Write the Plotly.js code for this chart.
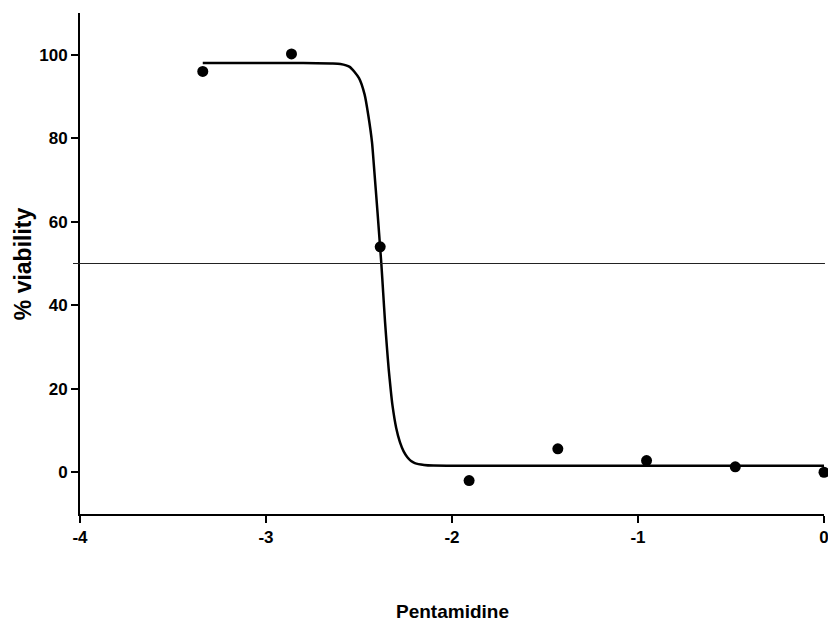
<!DOCTYPE html>
<html>
<head>
<meta charset="utf-8">
<script src="https://cdn.plot.ly/plotly-3.0.1.min.js"></script>
<style>html,body{margin:0;padding:0;background:#fff;}#chart{width:828px;height:623px;}</style>
</head>
<body>
<div id="chart"></div>
<script>
// Measured points
const logConc = [-3.340, -2.863, -2.386, -1.908, -1.431, -0.954, -0.477, 0];
const viability = [96.0, 100.2, 54.0, -2.0, 5.6, 2.8, 1.3, 0.0];

// Fitted curve
const curveX = [-3.34, -3.0, -2.8, -2.65, -2.6, -2.55, -2.5, -2.47, -2.45, -2.43, -2.42, -2.40, -2.39, -2.38, -2.37, -2.36, -2.35, -2.34, -2.33, -2.32, -2.30, -2.28, -2.26, -2.24, -2.22, -2.20, -2.15, -2.1, -1.8, -1.0, 0];
const curveY = [98.0, 98.0, 98.0, 97.9, 97.8, 97.1, 94.4, 90.5, 85.5, 79.0, 73.5, 62.0, 56.0, 50.0, 43.0, 36.0, 30.0, 24.5, 20.0, 16.0, 10.6, 7.2, 5.0, 3.6, 2.7, 2.2, 1.75, 1.6, 1.55, 1.55, 1.55];

const xTicks = [-4, -3, -2, -1, 0];
const yTicks = [0, 20, 40, 60, 80, 100];
const refLevel = 50;

const fontFam = 'Liberation Sans, Arial, Helvetica, sans-serif';

const traces = [
  {x: curveX, y: curveY, mode: 'lines', type: 'scatter',
   line: {color: '#000', width: 2.5, shape: 'spline', smoothing: 0.6},
   hoverinfo: 'skip', showlegend: false},
  {x: logConc, y: viability, mode: 'markers', type: 'scatter',
   marker: {color: '#000', size: 11}, cliponaxis: false, showlegend: false}
];

const layout = {
  width: 828, height: 623,
  margin: {l: 80, r: 4, t: 13, b: 109},
  paper_bgcolor: '#fff', plot_bgcolor: '#fff',
  showlegend: false,
  font: {family: fontFam, color: '#000'},
  xaxis: {
    range: [-4, 0], tickvals: xTicks, ticktext: xTicks.map(String),
    showgrid: false, zeroline: false, showline: true, linecolor: '#000', linewidth: 2,
    ticks: 'outside', ticklen: 7, tickwidth: 2, tickcolor: '#000',
    ticklabeloverflow: 'allow',
    tickfont: {family: fontFam, size: 17, weight: 700, color: '#000'}
  },
  yaxis: {
    range: [-10, 110], tickvals: yTicks, ticktext: yTicks.map(String),
    showgrid: false, zeroline: false, showline: true, linecolor: '#000', linewidth: 2,
    ticks: 'outside', ticklen: 7, tickwidth: 2, tickcolor: '#000',
    ticklabeloverflow: 'allow',
    tickfont: {family: fontFam, size: 17, weight: 700, color: '#000'}
  },
  shapes: [
    {type: 'line', xref: 'paper', yref: 'y', x0: -0.0094, x1: 1.0013, y0: refLevel, y1: refLevel,
     line: {color: '#222', width: 1}}
  ],
  annotations: [
    {text: 'Pentamidine', xref: 'paper', yref: 'paper', x: 0.5, y: -0.194, yanchor: 'middle', xanchor: 'center',
     showarrow: false, font: {family: fontFam, size: 19, weight: 700, color: '#000'}},
    {text: '% viability', xref: 'paper', yref: 'paper', x: -0.077, y: 0.5, xanchor: 'center', yanchor: 'middle',
     textangle: -90, showarrow: false, font: {family: fontFam, size: 23, weight: 700, color: '#000'}}
  ]
};

Plotly.newPlot('chart', traces, layout, {displayModeBar: false, staticPlot: true});
</script>
</body>
</html>
